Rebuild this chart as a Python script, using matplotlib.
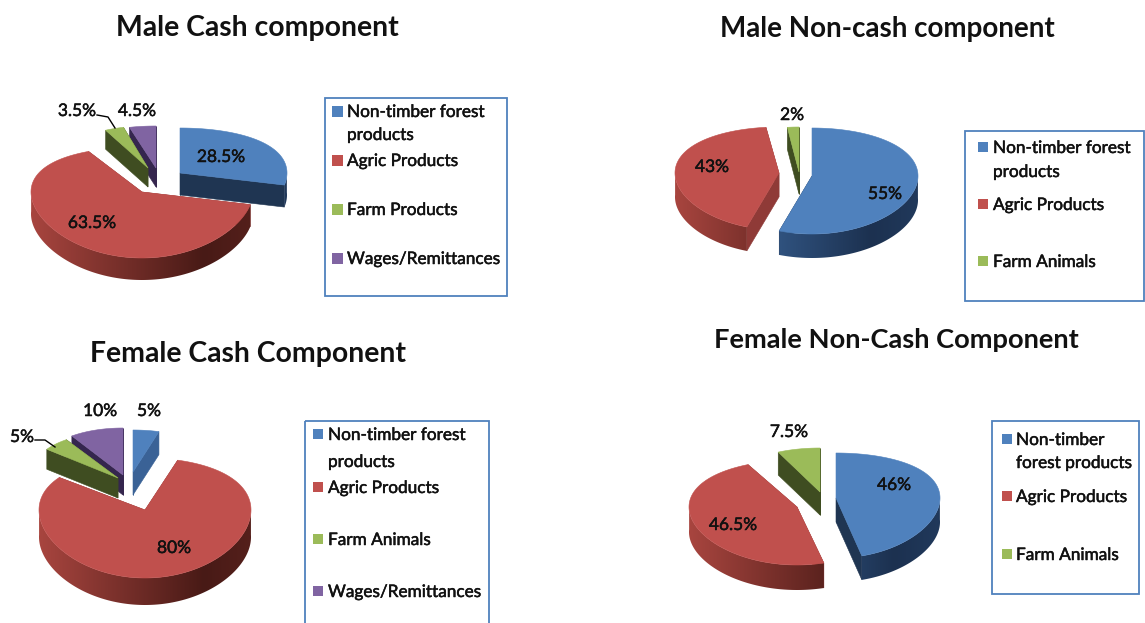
import numpy as np
import matplotlib
matplotlib.use('Agg')
import matplotlib.pyplot as plt
import matplotlib.patheffects as pe
from matplotlib.patches import Rectangle, Polygon
from matplotlib.colors import to_rgb

plt.rcParams['font.family'] = ['Lato', 'DejaVu Sans']

# values
male_cash = [28.5, 63.5, 3.5, 4.5]
male_noncash = [55, 43, 2]
female_cash = [5, 80, 5, 10]
female_noncash = [46, 46.5, 7.5]

male_cash_labels = ['28.5%', '63.5%', '3.5%', '4.5%']
male_noncash_labels = ['55%', '43%', '2%']
female_cash_labels = ['5%', '80%', '5%', '10%']
female_noncash_labels = ['46%', '46.5%', '7.5%']

legend_four = ['Non-timber forest\nproducts', 'Agric Products', 'Farm Products', 'Wages/Remittances']
legend_four_f = ['Non-timber forest\nproducts', 'Agric Products', 'Farm Animals', 'Wages/Remittances']
legend_three = ['Non-timber forest\nproducts', 'Agric Products', 'Farm Animals']
legend_three_f = ['Non-timber\nforest products', 'Agric Products', 'Farm Animals']

top_colors = ['#4F81BD', '#C0504D', '#9BBB59', '#8064A2']
cut_colors = ['#1F3552', '#8F3A37', '#3F4D21', '#35264E']
wall_light = ['#3F6CA3', '#A8453F', '#6E8A3A', '#5A4478']
wall_dark = ['#1C3150', '#481A16', '#3F4D21', '#35264E']

# layout of each pie, in pixels of the original picture
pies = [
    dict(values=male_cash, labels=male_cash_labels, order=[1, 3, 2, 0],
         centers=[(180, 173), (142, 192), (148, 168), (156, 168)],
         rx=[107, 111, 88, 95], top=[45, 45, 42, 42], bot=[62, 66, 60, 60], depth=[22, 22, 19, 19],
         label_xy=[(221, 157), (92, 223), (77, 111), (137, 111)],
         title='Male Cash component', title_xy=(257, 28), title_size=20.4,
         box=(325, 98, 507, 296), marker_x=332, text_x=347, marker_size=11,
         legend=legend_four, legend_y=[(112, 135), 161, 210, 259]),
    dict(values=male_noncash, labels=male_noncash_labels, order=[1, 2, 0],
         centers=[(812, 176), (779, 173), (799, 172)],
         rx=[106, 104, 93], top=[48, 46, 45], bot=[58, 57, 55], depth=[24, 24, 22],
         label_xy=[(885, 194), (712, 167), (792, 115)],
         title='Male Non-cash component', title_xy=(887, 29), title_size=20,
         box=(965, 131, 1144, 301), marker_x=978, text_x=993, marker_size=10,
         legend=legend_three, legend_y=[(148, 172), 205, 262]),
    dict(values=female_cash, labels=female_cash_labels, order=[1, 3, 2, 0],
         centers=[(133, 472), (145, 510), (118, 478), (123, 475)],
         rx=[84, 106, 88, 87], top=[42, 52, 46, 47], bot=[60, 68, 60, 60], depth=[23, 27, 20, 20],
         label_xy=[(149, 411), (174, 548), (22, 437), (100, 411)],
         title='Female Cash Component', title_xy=(248, 354), title_size=20.4,
         box=(305, 421, 489, 640), marker_x=313, text_x=328, marker_size=10,
         legend=legend_four_f, legend_y=[(435, 462), 488, 540, 592], first_cut='#3A6296'),
    dict(values=female_noncash, labels=female_noncash_labels, order=[1, 2, 0],
         centers=[(836, 498), (797, 507), (820, 492)],
         rx=[104, 108, 92], top=[45, 47, 44], bot=[60, 58, 58], depth=[24, 25, 23],
         label_xy=[(894, 485), (733, 525), (789, 432)],
         title='Female Non-Cash Component', title_xy=(896, 340), title_size=19.6,
         box=(992, 421, 1139, 594), marker_x=1002, text_x=1016, marker_size=10,
         legend=legend_three_f, legend_y=[(440, 463), 497, 555]),
]

# leader lines for the small outside labels
leaders = [
    ([97, 108, 115], [115, 117, 128]),
    ([35, 45, 55], [440, 440, 447]),
]

# thickens the text a little, the original font sits between regular and bold
heavy = [pe.withStroke(linewidth=0.35, foreground='#111111')]


def mix(a, b, t):
    a, b = np.array(to_rgb(a)), np.array(to_rgb(b))
    return a + (b - a) * t


def project(theta, cx, cy, rx, top, bot):
    # 12 o'clock is theta 0, going clockwise; front of the pie looks bigger than the back
    x, y = np.sin(theta), np.cos(theta)
    ry, c = (top + bot) / 2, (bot - top) / 2
    return cx + rx * x, cy - (ry * y - c * y * y)


def wall_gradient(i):
    pos = np.linspace(0, 1, 256)
    shade = np.where(pos < 0.78, pos / 0.78, 1 - (pos - 0.78) * 0.6)
    return np.array([mix(wall_light[i], wall_dark[i], s) for s in shade])[None, :, :]


fig = plt.figure(figsize=(11.45, 6.23), dpi=100)
ax = fig.add_axes([0, 0, 1, 1])
ax.axis('off')


def draw_slice(p, i, start, end, z):
    cx, cy = p['centers'][i]
    rx, top, bot, depth = p['rx'][i], p['top'][i], p['bot'][i], p['depth'][i]
    t = np.linspace(start, end, 240)
    xs, ys = project(t, cx, cy, rx, top, bot)

    # the two flat cut faces
    cut = p.get('first_cut', cut_colors[i]) if i == 0 else cut_colors[i]
    for k in (0, -1):
        ax.fill([cx, xs[k], xs[k], cx], [cy, ys[k], ys[k] + depth, cy + depth],
                color=cut, lw=0.4, zorder=z)

    # outer wall, shaded left to right
    front = np.cos(t) <= 0.05
    if front.any():
        verts = np.r_[np.c_[xs[front], ys[front]], np.c_[xs[front], ys[front] + depth][::-1]]
        im = ax.imshow(wall_gradient(i), extent=(cx - rx, cx + rx, cy + bot + depth + 3, cy - 5),
                       aspect='auto', interpolation='bilinear', zorder=z + 1)
        im.set_clip_path(Polygon(verts, transform=ax.transData))

    # top face
    ax.fill(np.r_[cx, xs], np.r_[cy, ys], color=top_colors[i], lw=0.4, zorder=z + 2)


for p in pies:
    edges = np.radians(np.r_[0, np.cumsum(p['values'])] * 3.6)
    for rank, i in enumerate(p['order']):
        draw_slice(p, i, edges[i], edges[i + 1], 2 + rank * 3)

    for lab, (x, y) in zip(p['labels'], p['label_xy']):
        ax.text(x, y, lab, ha='center', va='center', fontsize=12.5, color='#111111',
                zorder=30, path_effects=heavy)

    ax.text(p['title_xy'][0], p['title_xy'][1], p['title'], ha='center', va='center',
            fontsize=p['title_size'], fontweight='bold', color='#111111')

    x0, y0, x1, y1 = p['box']
    ax.add_patch(Rectangle((x0, y0), x1 - x0, y1 - y0, fill=False, ec='#4F81BD', lw=1.3, zorder=31))
    m = p['marker_size']
    for i, (name, ly) in enumerate(zip(p['legend'], p['legend_y'])):
        if isinstance(ly, tuple):
            for part, yy in zip(name.split('\n'), ly):
                ax.text(p['text_x'], yy, part, ha='left', va='center', fontsize=12.4,
                        color='#111111', path_effects=heavy)
            ly = ly[0]
        else:
            ax.text(p['text_x'], ly, name, ha='left', va='center', fontsize=12.4,
                    color='#111111', path_effects=heavy)
        ax.add_patch(Rectangle((p['marker_x'], ly - 1 - m / 2), m, m, fc=top_colors[i], ec='none', zorder=32))

for lx, ly in leaders:
    ax.plot(lx, ly, color='black', lw=1.0, zorder=30)

# imshow moves the limits, so set them last
ax.set_xlim(0, 1145)
ax.set_ylim(623, 0)

fig.savefig('out.png', dpi=100)
